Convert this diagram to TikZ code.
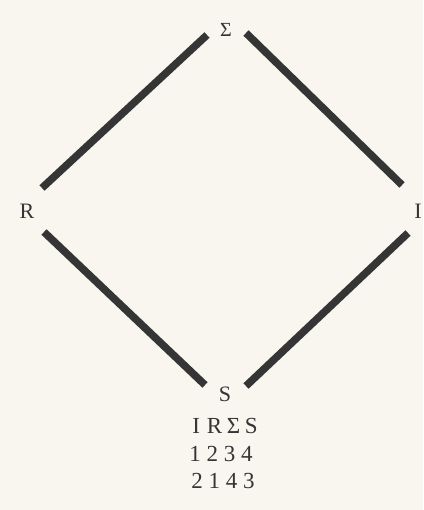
\documentclass[tikz,border=0pt]{standalone}
\usepackage{fontspec}
\setmainfont{Liberation Serif}
\definecolor{paper}{HTML}{F8F6EE}
\definecolor{ink}{HTML}{353535}
\begin{document}
\begin{tikzpicture}[x=1pt,y=1pt,
  bar/.style={line width=7.5pt,draw=ink,line cap=butt},
  lbl/.style={text=ink,font=\fontsize{22}{26}\selectfont,inner sep=0pt,anchor=center},
  row/.style={text=ink,font=\fontsize{23}{28}\selectfont,inner sep=0pt,anchor=base}]
\fill[paper] (0,0) rectangle (423,510);
\useasboundingbox (0,0) rectangle (423,510);
% labels
\node[lbl,font=\fontsize{20}{24}\selectfont] (sig) at (226,480) {Σ};
\node[lbl] (r) at (27,299) {R};
\node[lbl] (i) at (418,299) {I};
\node[lbl] (s) at (225,116) {S};
% bar end points
\coordinate (tl1) at (42,322);
\coordinate (tl2) at (207,475);
\coordinate (tr1) at (246,477);
\coordinate (tr2) at (402,325);
\coordinate (bl1) at (44,278);
\coordinate (bl2) at (205,125);
\coordinate (br1) at (246,124);
\coordinate (br2) at (408,277);
\draw[bar] (tl1) -- (tl2);
\draw[bar] (tr1) -- (tr2);
\draw[bar] (bl1) -- (bl2);
\draw[bar] (br1) -- (br2);
% table
\node[row] (t1) at (225,76) {I\hspace{0.3em}R\hspace{0.2em}Σ\hspace{0.2em}S};
\node[row] (t2) at (221,48) {1\hspace{0.25em}2\hspace{0.25em}3\hspace{0.25em}4};
\node[row] (t3) at (223,21) {2\hspace{0.25em}1\hspace{0.25em}4\hspace{0.25em}3};
\end{tikzpicture}
\end{document}
